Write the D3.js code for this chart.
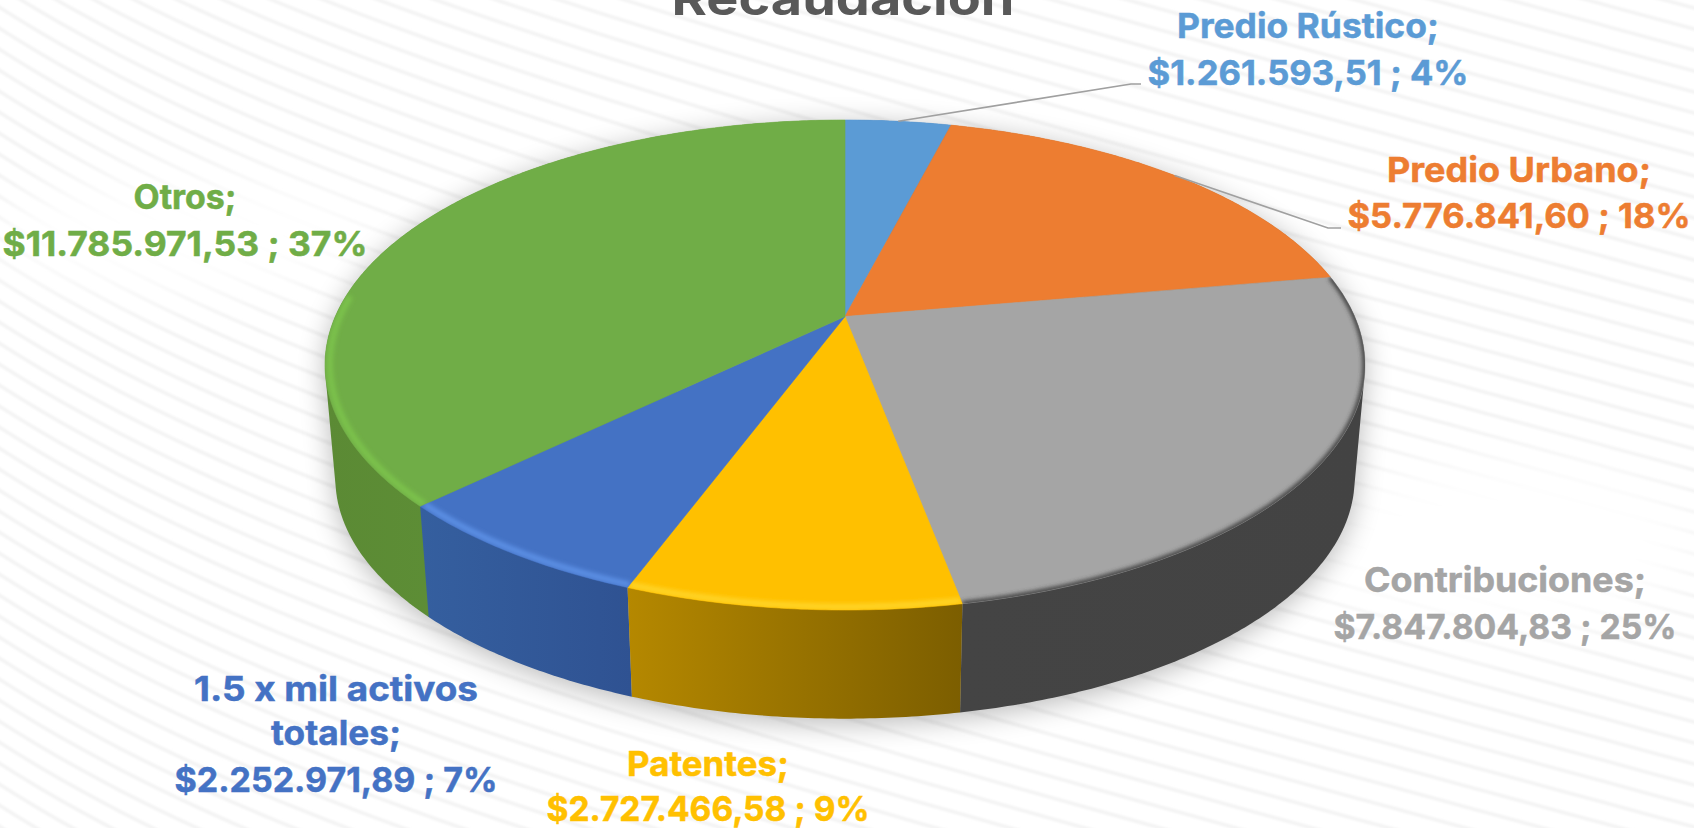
<!DOCTYPE html>
<html><head><meta charset="utf-8">
<script src="https://cdnjs.cloudflare.com/ajax/libs/d3/7.8.5/d3.min.js"></script>
<style>html,body{margin:0;padding:0;background:#fff;overflow:hidden}svg{display:block}
text{font-family:Inter,"Open Sans",sans-serif;font-weight:700}</style>
</head><body>
<svg id="c" width="1694" height="828"></svg>
<script>
// ---- data ----
const title = "Recaudación";
const categories = ["Predio Rústico","Predio Urbano","Contribuciones","Patentes","1.5 x mil activos totales","Otros"];
const values = [1261593.51,5776841.60,7847804.83,2727466.58,2252971.89,11785971.53];
const topColors = ["#5b9bd5","#ed7d31","#a5a5a5","#ffc000","#4472c4","#70ad47"];
const sideFrom = ["#3f78ad","#b25a1e","#444444","#b58800","#355f9f","#5b8a34"];
const sideTo   = ["#3f78ad","#b25a1e","#434343","#7c5e00","#2f5292","#659a3c"];
const rimColors = ["#5b9bd5","#ed7d31","#3c3c3c","#ffd426","#5b8fe4","#7cc24c"];
const sideOrder = [0,1,5,2,4,3]; // back to front
// label layout: name lines, then anchor centre and baselines; widths fit the reference
const nameLines = [["Predio Rústico;"],["Predio Urbano;"],["Contribuciones;"],["Patentes;"],["1.5 x mil activos","totales;"],["Otros;"]];
const labelCx = [1308,1519,1505,708,336,185];
const labelBaselines = [[38,85],[182,228],[592,639],[776,821],[701,745,792],[209,256]];
const labelWidths = [[262,321],[264,343],[282,343],[162,323],[284,130,323],[103,365]];
const leaderSlices = [0,1];
const leaderBend = [[1131,84,1141],[1328,228,1341]];

// ---- geometry: perspective view of a disc ----
const W=1694,H=828,cx=845,apexY=316.5,A=509.7,B=235.4,K=0.198;
const depthY=431, depthS=0.98;
function proj(angle,level,inset=1){ // level 0: top face, 1: bottom
  const u=Math.sin(angle)*inset,v=-Math.cos(angle)*inset,d=1-K*v;
  const s=level?depthS:1, y0=level?depthY:apexY;
  return [cx+s*A*u/d, y0+s*B*v/d];
}
function arcPts(a0,a1,level,inset=1){
  const n=Math.max(2,Math.ceil((a1-a0)/0.01));
  return d3.range(n+1).map(i=>proj(a0+(a1-a0)*i/n,level,inset));
}
const line=d3.line();
const svg=d3.select("#c");
const defs=svg.append("defs");
const blur=(id,sd)=>defs.append("filter").attr("id",id).attr("x","-30%").attr("y","-30%").attr("width","160%").attr("height","160%")
  .append("feGaussianBlur").attr("stdDeviation",sd);
blur("b1",1.2);blur("b2",2);blur("b3",3);blur("b14",14);blur("b25",25);

svg.append("rect").attr("width",W).attr("height",H).attr("fill","#fff");

// ---- background stripes ----
const stripeLine=d3.line().curve(d3.curveBasis);
const stripes=svg.append("g").attr("fill","none").attr("stroke","#f3f3f3").attr("stroke-width",3.4).attr("filter","url(#b1)");
d3.range(-1000,900,21).forEach(y0=>{
  const pts=d3.range(-40,W+41,40).map(x=>[x,y0+0.27*x+110*(1-Math.exp(-x/300))]);
  stripes.append("path").attr("d",stripeLine(pts));
});
// clear patches behind two of the labels
const patches=svg.append("g").attr("fill","#fff").attr("filter","url(#b25)");
patches.append("ellipse").attr("cx",185).attr("cy",235).attr("rx",190).attr("ry",55);
patches.append("ellipse").attr("cx",1505).attr("cy",545).attr("rx",190).attr("ry",85);

// ---- pie ----
const pie=d3.pie().value(d=>d).sort(null)(values);
const total=d3.sum(values);

// shadow under the disc
svg.append("path").attr("d",line(d3.polygonHull(arcPts(0,2*Math.PI,0).concat(arcPts(0,2*Math.PI,1))))+"Z").attr("fill","#000").attr("opacity",.27)
  .attr("filter","url(#b14)").attr("transform","translate(0,5)");

// sides
const sides=svg.append("g");
sideOrder.forEach(i=>{
  const p=pie[i];
  const top=arcPts(p.startAngle,p.endAngle,0), bot=arcPts(p.startAngle,p.endAngle,1);
  const all=top.concat(bot), xs=all.map(d=>d[0]);
  const gid="side"+i;
  const g=defs.append("linearGradient").attr("id",gid).attr("gradientUnits","userSpaceOnUse")
    .attr("x1",d3.min(xs)).attr("x2",d3.max(xs)).attr("y1",0).attr("y2",0);
  g.append("stop").attr("offset",0).attr("stop-color",sideFrom[i]);
  g.append("stop").attr("offset",1).attr("stop-color",sideTo[i]);
  sides.append("path").attr("d",line(d3.polygonHull(all))+"Z").attr("fill",`url(#${gid})`);
});

// top face
const tops=svg.append("g");
const apex=[cx,apexY];
pie.forEach((p,i)=>{
  const d=line([apex].concat(arcPts(p.startAngle,p.endAngle,0)))+"Z";
  defs.append("clipPath").attr("id","clip"+i).append("path").attr("d",d);
  tops.append("path").attr("d",d).attr("fill",topColors[i]).attr("stroke",topColors[i]).attr("stroke-width",.6);
});
// rim bevel on the front of the disc
const rimMin=78*Math.PI/180, rimMax=275*Math.PI/180;
pie.forEach((p,i)=>{
  const a0=Math.max(p.startAngle,rimMin), a1=Math.min(p.endAngle,rimMax);
  if(a1<=a0) return;
  const dark=i===2;
  tops.append("g").attr("clip-path",`url(#clip${i})`)
    .append("path").attr("d",line(arcPts(a0,a1,0,dark?1:0.991))).attr("fill","none")
    .attr("stroke",rimColors[i]).attr("stroke-width",dark?5:6).attr("filter","url(#b2)");
});

// ---- leaders ----
const leaders=svg.append("g").attr("fill","none").attr("stroke","#a0a0a0").attr("stroke-width",1.6);
leaderSlices.forEach((s,j)=>{
  const p=pie[s],m=(p.startAngle+p.endAngle)/2,st=proj(m,0),b=leaderBend[j];
  leaders.append("path").attr("d",line([st,[b[0],b[1]],[b[2],b[1]]]));
});

// ---- labels ----
const money=d3.formatLocale({decimal:",",thousands:".",grouping:[3],currency:["$",""]}).format("$,.2f");
const pct=d3.format(".0%");
const labels=svg.append("g").attr("text-anchor","middle").attr("font-size",34.5);
categories.forEach((c,i)=>{
  const lines=nameLines[i].concat(`${money(values[i])} ; ${pct(values[i]/total)}`);
  lines.forEach((t,j)=>{
    labels.append("text").attr("x",labelCx[i]).attr("y",labelBaselines[i][j])
      .attr("fill",topColors[i]).attr("stroke",topColors[i]).attr("stroke-width",.5)
      .attr("textLength",labelWidths[i][j]).attr("lengthAdjust","spacingAndGlyphs").text(t);
  });
});
svg.append("text").attr("x",843).attr("y",15).attr("text-anchor","middle").attr("font-size",47)
  .attr("fill","#595959").attr("textLength",343).attr("lengthAdjust","spacingAndGlyphs").text(title);
</script>
</body></html>
